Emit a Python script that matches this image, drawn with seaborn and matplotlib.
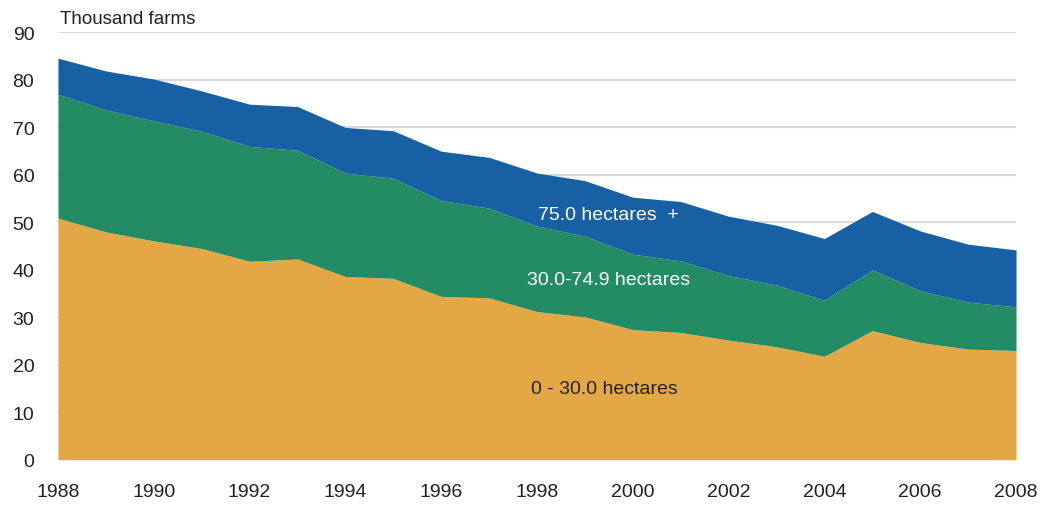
import pandas as pd
import matplotlib
matplotlib.use("Agg")
import matplotlib.pyplot as plt
import seaborn as sns

years = list(range(1988, 2009))
# layer values (thousand farms)
small = [50.9, 48.0, 46.1, 44.5, 41.8, 42.3, 38.6, 38.2, 34.4, 34.1, 31.2,
         30.1, 27.4, 26.8, 25.2, 23.8, 21.8, 27.2, 24.7, 23.3, 23.0]
medium = [26.1, 25.7, 25.3, 24.7, 24.2, 22.9, 21.8, 21.1, 20.2, 18.9, 18.0,
          17.0, 15.9, 15.1, 13.6, 13.0, 11.8, 12.8, 10.9, 9.9, 9.2]
large = [7.6, 8.2, 8.8, 8.5, 8.9, 9.2, 9.6, 10.0, 10.4, 10.7, 11.2,
         11.7, 12.0, 12.5, 12.5, 12.6, 13.0, 12.3, 12.6, 12.2, 12.0]
labels = ["0 - 30.0 hectares", "30.0-74.9 hectares", "75.0 hectares  +"]
colors = ["#E3A845", "#238C64", "#1760A3"]

df = pd.DataFrame({"year": years, labels[0]: small, labels[1]: medium, labels[2]: large})

sns.set_theme(style="white")
plt.rcParams["font.family"] = ["Liberation Sans", "DejaVu Sans"]

fig = plt.figure(figsize=(10.48, 5.06), dpi=100)
ax = fig.add_axes([0.0553, 0.0895, 0.9142, 0.8443])

ax.stackplot(df["year"], df[labels[0]], df[labels[1]], df[labels[2]],
             colors=colors, linewidth=0, zorder=2)

ax.set_xlim(1988, 2008)
ax.set_ylim(0, 90)
ax.set_xticks(range(1988, 2009, 2))
ax.set_yticks(range(0, 91, 10))
ax.yaxis.grid(True, color="#D9D9D9", linewidth=1.5, zorder=0)
ax.set_axisbelow(True)
for s in ax.spines.values():
    s.set_visible(False)
ax.tick_params(axis="both", length=0, labelsize=14, colors="#222222")
ax.tick_params(axis="x", pad=17)
ax.tick_params(axis="y", pad=17)

ax.text(0.002, 1.012, "Thousand farms", transform=ax.transAxes, fontsize=13.5,
        color="#222222", ha="left", va="bottom")

ax.text(1999.5, 51.7, labels[2], color="white", fontsize=14, ha="center", va="center")
ax.text(1999.5, 38.0, labels[1], color="white", fontsize=14, ha="center", va="center")
ax.text(1999.4, 15.1, labels[0], color="#222222", fontsize=14, ha="center", va="center")

fig.savefig("out.png", dpi=100)
